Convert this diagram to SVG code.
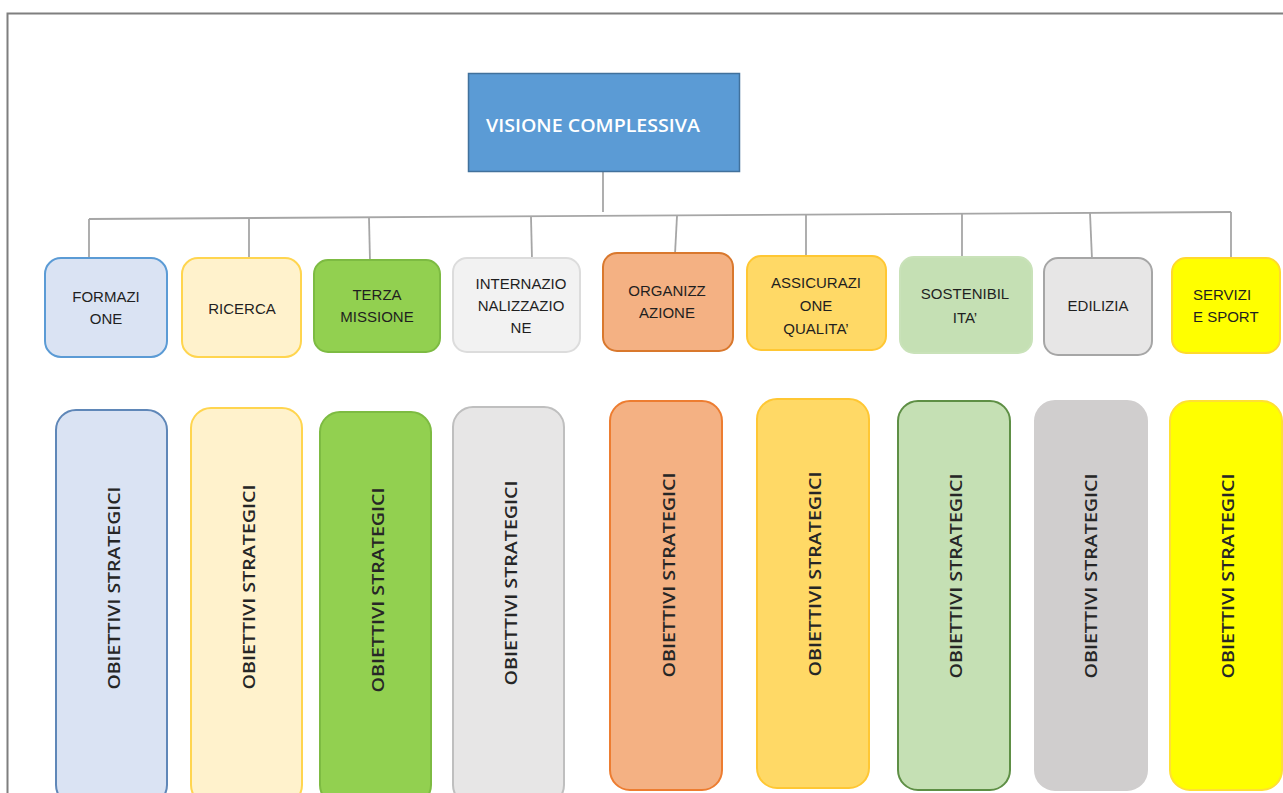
<svg xmlns="http://www.w3.org/2000/svg" width="1283" height="793" viewBox="0 0 1283 793">
<style>
.t{font-family:"Liberation Sans",Arial,sans-serif;font-size:15px;fill:#1F1F1F;text-anchor:middle}
.v{font-family:"Open Sans","Liberation Sans",Arial,sans-serif;font-size:17px;font-weight:600;fill:#262626;text-anchor:middle}
.c{stroke:#A6A6A6;stroke-width:1.8;fill:none}
.b{stroke-width:2}
</style>
<rect x="0" y="0" width="1283" height="793" fill="#FFFFFF"/>
<rect x="7.5" y="13.5" width="1300" height="800" fill="none" stroke="#7F7F7F" stroke-width="2"/>
<g id="connectors">
<line class="c" x1="603" y1="172" x2="603" y2="212"/>
<line class="c" x1="89" y1="219" x2="1231" y2="212"/>
<line class="c" x1="89" y1="219" x2="89" y2="259"/>
<line class="c" x1="249" y1="218" x2="249" y2="259"/>
<line class="c" x1="369" y1="218" x2="370" y2="261"/>
<line class="c" x1="531" y1="217" x2="532" y2="259"/>
<line class="c" x1="677" y1="216" x2="675" y2="254"/>
<line class="c" x1="806" y1="215" x2="806" y2="257"/>
<line class="c" x1="962" y1="213" x2="962" y2="258"/>
<line class="c" x1="1090" y1="213" x2="1092" y2="259"/>
<line class="c" x1="1231" y1="212" x2="1231" y2="258"/>
</g>
<g id="visione">
<rect x="468.5" y="73.5" width="271" height="98" fill="#5B9BD5" stroke="#41719C" stroke-width="1.5"/>
<text x="486" y="132" font-family="'Open Sans','Liberation Sans',Arial,sans-serif" font-weight="600" font-size="17.5" fill="#FFFFFF" textLength="214" lengthAdjust="spacingAndGlyphs">VISIONE COMPLESSIVA</text>
</g>
<g id="formazione">
<rect class="b" x="45" y="258" width="122" height="99" rx="16" fill="#DAE3F3" stroke="#5B9BD5"/>
<text class="t" x="106" y="302">FORMAZI</text><text class="t" x="106" y="324">ONE</text>
</g>
<g id="ricerca">
<rect class="b" x="182" y="258" width="119" height="99" rx="16" fill="#FFF2CC" stroke="#FFD54F"/>
<text class="t" x="242" y="314">RICERCA</text>
</g>
<g id="terza">
<rect class="b" x="314" y="260" width="126" height="92" rx="14" fill="#92D050" stroke="#7DBB42"/>
<text class="t" x="377" y="300">TERZA</text><text class="t" x="377" y="322">MISSIONE</text>
</g>
<g id="internazionalizzazione">
<rect class="b" x="453" y="258" width="127" height="94" rx="14" fill="#F2F2F2" stroke="#DCDCDC"/>
<text class="t" x="521" y="289">INTERNAZIO</text><text class="t" x="521" y="311">NALIZZAZIO</text><text class="t" x="521" y="333">NE</text>
</g>
<g id="organizzazione">
<rect class="b" x="603" y="253" width="130" height="98" rx="14" fill="#F4B183" stroke="#D9782D"/>
<text class="t" x="667" y="296">ORGANIZZ</text><text class="t" x="667" y="318">AZIONE</text>
</g>
<g id="assicurazione">
<rect class="b" x="747" y="256" width="139" height="94" rx="14" fill="#FFD966" stroke="#FFC733"/>
<text class="t" x="816" y="288">ASSICURAZI</text><text class="t" x="816" y="311">ONE</text><text class="t" x="816" y="334">QUALITA’</text>
</g>
<g id="sostenibilita">
<rect class="b" x="900" y="257" width="132" height="96" rx="14" fill="#C5E0B4" stroke="#C9E2B9"/>
<text class="t" x="965" y="299">SOSTENIBIL</text><text class="t" x="965" y="323">ITA’</text>
</g>
<g id="edilizia">
<rect class="b" x="1044" y="258" width="108" height="97" rx="14" fill="#E7E6E6" stroke="#A6A6A6"/>
<text class="t" x="1098" y="311">EDILIZIA</text>
</g>
<g id="servizi">
<rect class="b" x="1172" y="258" width="108" height="95" rx="14" fill="#FFFF00" stroke="#FFD92E"/>
<text class="t" x="1193" y="300" style="text-anchor:start">SERVIZI</text><text class="t" x="1193" y="322" style="text-anchor:start">E SPORT</text>
</g>
<g id="obiettivi-1">
<rect class="b" x="56" y="410" width="111" height="395" rx="20" fill="#DAE3F3" stroke="#5F87B8"/>
<text class="v" transform="translate(120 588) rotate(-90)" textLength="203" lengthAdjust="spacingAndGlyphs">OBIETTIVI STRATEGICI</text>
</g>
<g id="obiettivi-2">
<rect class="b" x="191" y="408" width="111" height="397" rx="20" fill="#FFF2CC" stroke="#FFD54F"/>
<text class="v" transform="translate(255 587) rotate(-90)" textLength="205" lengthAdjust="spacingAndGlyphs">OBIETTIVI STRATEGICI</text>
</g>
<g id="obiettivi-3">
<rect class="b" x="320" y="412" width="111" height="393" rx="20" fill="#92D050" stroke="#7DBB42"/>
<text class="v" transform="translate(384 590) rotate(-90)" textLength="205" lengthAdjust="spacingAndGlyphs">OBIETTIVI STRATEGICI</text>
</g>
<g id="obiettivi-4">
<rect class="b" x="453" y="407" width="111" height="398" rx="20" fill="#E7E6E6" stroke="#BFBFBF"/>
<text class="v" transform="translate(517 583) rotate(-90)" textLength="205" lengthAdjust="spacingAndGlyphs">OBIETTIVI STRATEGICI</text>
</g>
<g id="obiettivi-5">
<rect class="b" x="610" y="401" width="112" height="389" rx="20" fill="#F4B183" stroke="#ED7D31"/>
<text class="v" transform="translate(675 575) rotate(-90)" textLength="205" lengthAdjust="spacingAndGlyphs">OBIETTIVI STRATEGICI</text>
</g>
<g id="obiettivi-6">
<rect class="b" x="757" y="399" width="112" height="389" rx="20" fill="#FFD966" stroke="#FFC733"/>
<text class="v" transform="translate(821 574) rotate(-90)" textLength="205" lengthAdjust="spacingAndGlyphs">OBIETTIVI STRATEGICI</text>
</g>
<g id="obiettivi-7">
<rect class="b" x="898" y="401" width="112" height="389" rx="20" fill="#C5E0B4" stroke="#5E8F45"/>
<text class="v" transform="translate(962 576) rotate(-90)" textLength="205" lengthAdjust="spacingAndGlyphs">OBIETTIVI STRATEGICI</text>
</g>
<g id="obiettivi-8">
<rect class="b" x="1035" y="401" width="112" height="389" rx="20" fill="#D0CECE" stroke="#D0CECE"/>
<text class="v" transform="translate(1097 576) rotate(-90)" textLength="205" lengthAdjust="spacingAndGlyphs">OBIETTIVI STRATEGICI</text>
</g>
<g id="obiettivi-9">
<rect class="b" x="1170" y="401" width="112" height="389" rx="20" fill="#FFFF00" stroke="#FFE033"/>
<text class="v" transform="translate(1234 576) rotate(-90)" textLength="205" lengthAdjust="spacingAndGlyphs">OBIETTIVI STRATEGICI</text>
</g>
</svg>
